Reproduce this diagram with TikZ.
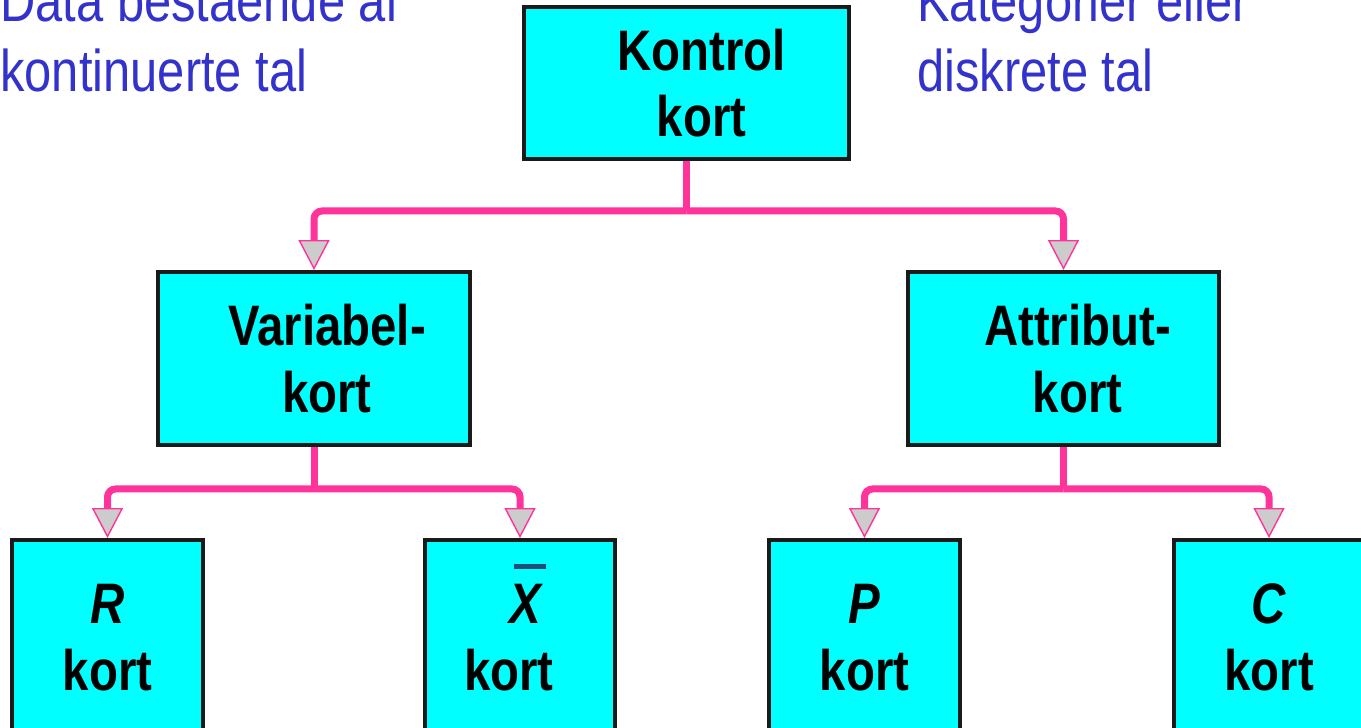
\documentclass[tikz,border=0pt]{standalone}
\usepackage{fontspec}
\usetikzlibrary{arrows.meta}

\newfontfamily\chartfont[FakeStretch=0.83]{Liberation Sans}

\definecolor{boxcyan}{RGB}{0,255,255}
\definecolor{boxline}{RGB}{26,26,26}
\definecolor{linkpink}{RGB}{255,51,153}
\definecolor{tipgray}{RGB}{204,204,204}
\definecolor{noteblue}{RGB}{51,51,204}
\definecolor{barblue}{RGB}{31,78,121}

\begin{document}
\begin{tikzpicture}[
    x=0.02cm, y=-0.02cm,
    box/.style={rectangle, draw=boxline, fill=boxcyan, line width=0.08cm, inner sep=0pt},
    topbox/.style={box, minimum width=6.5cm, minimum height=3.04cm},
    midbox/.style={box, minimum width=6.24cm, minimum height=3.46cm},
    leafbox/.style={box, minimum width=3.82cm, minimum height=3.9cm},
    lbl/.style={align=center, inner sep=0pt, font=\chartfont\fontsize{32.5}{37.8}\selectfont\bfseries},
    note/.style={align=left, inner sep=0pt, anchor=south west, text=noteblue, font=\chartfont\fontsize{33.5}{39.8}\selectfont},
    link/.style={draw=linkpink, line width=0.14cm, rounded corners=0.16cm},
    linkarrow/.style={link, -{Triangle[width=0.62cm, length=0.6cm, fill=tipgray, line width=0.8pt]}}
]
\useasboundingbox (0,0) rectangle (1361,727);
\clip (0,0) rectangle (1361,727);

% notes at the top
\node[note] (data-note) at (0,92) {Data bestående af\\kontinuerte tal};
\node[note] (kat-note) at (917,92) {Kategorier eller\\diskrete tal};

% boxes
\node[topbox] (kontrol) at (686.5,83) {};
\node[midbox] (variabel) at (314,358.5) {};
\node[midbox] (attribut) at (1063.5,358.5) {};
\node[leafbox] (rkort) at (107.5,637.5) {};
\node[leafbox] (xkort) at (520,637.5) {};
\node[leafbox] (pkort) at (864.5,637.5) {};
\node[leafbox] (ckort) at (1269,637.5) {};

% connectors
\coordinate (split-top) at ([yshift=-1cm]kontrol.south);
\coordinate (split-var) at ([yshift=-0.84cm]variabel.south);
\coordinate (split-att) at ([yshift=-0.84cm]attribut.south);

\draw[link] (kontrol.south) -- (split-top);
\draw[linkarrow] (split-top) -| (variabel.north);
\draw[linkarrow] (split-top) -| (attribut.north);
\draw[link] (variabel.south) -- (split-var);
\draw[linkarrow] (split-var) -| (rkort.north);
\draw[linkarrow] (split-var) -| (xkort.north);
\draw[link] (attribut.south) -- (split-att);
\draw[linkarrow] (split-att) -| (pkort.north);
\draw[linkarrow] (split-att) -| (ckort.north);

% box texts
\node[lbl] (kontrol-txt) at ([xshift=0.3cm]kontrol.center) {Kontrol\\kort};
\node[lbl] (variabel-txt) at ([xshift=0.26cm]variabel.center) {Variabel-\\kort};
\node[lbl] (attribut-txt) at ([xshift=0.28cm]attribut.center) {Attribut-\\kort};
\node[lbl] (rkort-txt) at (rkort.center) {\textit{R}\\kort};
\node[lbl] (xkort-txt) at ([xshift=-0.04cm]xkort.center)
    {\hspace*{0.34cm}\smash{\rlap{\hspace{0.08cm}\color{barblue}\rule[1.1cm]{0.64cm}{0.1cm}}}\textit{X}\\kort\hspace*{0.36cm}};
\node[lbl] (pkort-txt) at (pkort.center) {\textit{P}\\kort};
\node[lbl] (ckort-txt) at (ckort.center) {\textit{C}\\kort};
\end{tikzpicture}
\end{document}
